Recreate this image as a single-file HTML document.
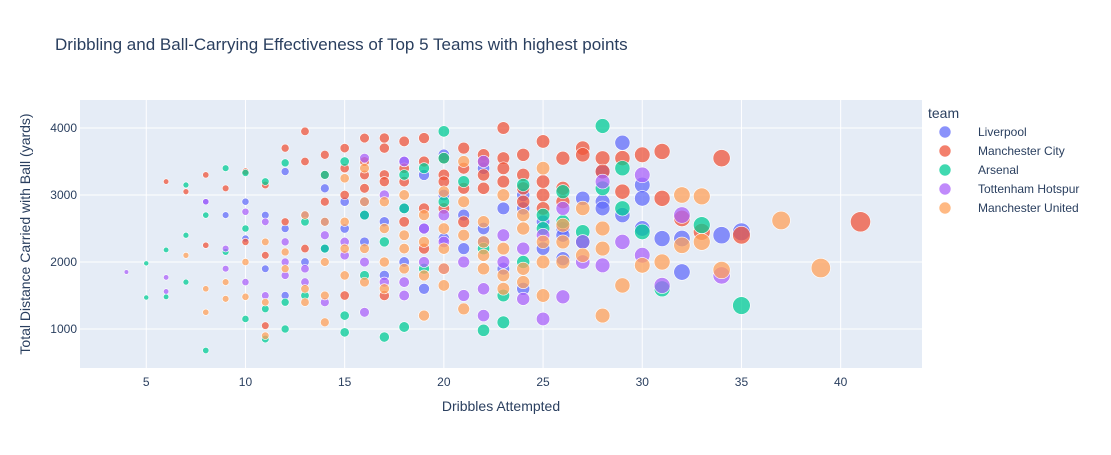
<!DOCTYPE html>
<html><head><meta charset="utf-8"><style>
body{margin:0;background:#fff;font-family:"Liberation Sans",Arial,sans-serif}
svg text{font-family:"Liberation Sans",Arial,sans-serif}
</style></head><body>
<svg id="chart" width="1111" height="450" xmlns="http://www.w3.org/2000/svg">
<rect width="1111" height="450" fill="#fff"/>
<text x="55" y="50" font-size="17" fill="#2a3f5f">Dribbling and Ball-Carrying Effectiveness of Top 5 Teams with highest points</text>
<rect x="80" y="100" width="842" height="268" fill="#e5ecf6"/>
<g id="grid"></g>
<g id="marks"></g>
<g id="ticks"></g>
<text x="501" y="411" font-size="14" fill="#2a3f5f" text-anchor="middle">Dribbles Attempted</text>
<text transform="translate(30,234) rotate(-90)" font-size="14" fill="#2a3f5f" text-anchor="middle">Total Distance Carried with Ball (yards)</text>
<text x="928" y="118" font-size="14" fill="#2a3f5f">team</text>
<g id="legend"></g>
</svg>
<script>
const teams=["Liverpool","Manchester City","Arsenal","Tottenham Hotspur","Manchester United"];
const colors=["#636efa","#EF553B","#00cc96","#ab63fa","#FFA15A"];
const xTicks=[5,10,15,20,25,30,35,40];
const yTicks=[1000,2000,3000,4000];
const livX=[9,10,12,14,16,18,19,20,22,24,26,27,28,29,30,31,32,32,34,35,30,25,23,21,17,15,13,11,8,20,18,26,28,22,16,14,12,24,19,10,13,15,17,19,21,23,25,27,29,11,14,16,18,20,22,24,26,28,30,12];
const livY=[2700,2350,3350,2200,2900,3500,3300,3600,2300,2800,2500,2950,3350,3780,3150,2350,1850,2350,2400,2450,2950,2200,1900,2700,1800,2500,2000,1900,2900,3000,2000,2050,2900,3400,2300,3100,1500,1600,1600,2900,2700,2900,2600,2500,2200,2800,2600,2300,2700,2700,2600,2700,2800,2350,2500,3000,2400,2800,2500,2500];
const mciX=[6,8,9,10,11,12,13,13,14,15,16,17,17,18,19,20,21,22,23,23,24,25,25,26,27,27,28,29,30,31,31,33,34,35,41,22,20,18,16,14,24,26,28,19,21,23,25,17,15,12,11,10,8,7,11,13,15,17,19,21,29,32,14,16,18,20,22,24,15,17,19,21,23,25,18,20,22,24,16,26];
const mciY=[3200,3300,3100,3350,3150,3700,3950,3500,3300,3700,3850,3850,3700,3800,3850,3550,3700,3600,3550,4000,3600,3800,3200,3550,3700,3600,3550,3550,3600,3650,2950,2450,3550,2400,2600,3100,3300,3200,3100,2900,3300,2900,3350,2800,3400,3200,3000,3300,3000,2600,2100,2300,2250,3050,1050,2200,1500,1500,2200,2600,3050,2650,3600,3500,3400,3200,3300,3100,3400,3200,3500,3100,3400,2800,2600,2800,3500,2900,3300,3100];
const arsX=[5,5,6,6,7,7,7,8,8,9,9,10,10,11,11,12,12,13,14,15,15,16,17,18,18,19,20,20,21,22,23,24,25,26,27,28,28,29,29,30,31,33,35,22,24,16,14,19,26,13,10,12,15,17,20,23,25,27,11,18];
const arsY=[1980,1470,1480,2180,3150,2400,1700,2700,680,3400,2150,3330,1150,850,3200,3480,1000,1500,3300,950,3500,2700,880,1030,2800,3400,3550,3950,3200,980,1100,3150,2700,3050,2450,4030,3100,3400,2800,2450,1600,2550,1350,2200,2000,1800,2200,1900,2600,2600,2500,1400,1200,2300,2900,1500,2500,2300,1300,3300];
const totX=[4,6,6,8,9,10,11,12,13,14,15,16,16,17,18,19,20,21,22,22,24,25,26,27,28,29,30,31,32,34,23,20,18,26,28,24,14,12,10,30,11,13,15,17,19,21,23,25,27,16,18,20,22,9,12];
const totY=[1850,1560,1770,2900,2200,2750,2600,2000,1700,1400,2100,3550,1250,3000,3500,2500,1900,2000,3500,1200,1450,1150,1480,2300,1950,2300,3300,1650,2700,1800,2400,2700,1500,2800,3200,2200,2400,2300,1700,2100,1500,1900,2300,1700,2000,1500,2000,2400,2000,2000,1700,2300,1600,1900,1800];
const munX=[7,8,8,9,10,10,11,11,12,13,13,14,14,15,15,15,16,16,17,17,18,18,19,19,20,20,20,21,21,21,22,22,23,23,24,24,25,25,25,26,27,27,28,28,29,30,31,32,32,33,33,34,37,39,26,19,17,23,16,18,12,14,16,18,20,22,24,13,15,17,19,21,23,25,9,11,14,20,22,24,26,28];
const munY=[2100,1250,1600,1450,1480,2000,900,2300,2150,1600,2700,1100,2000,3250,2600,1800,3400,2200,2900,1600,2400,1900,2700,1200,1650,3050,2200,2900,3500,1300,2600,1900,2200,3000,2500,1700,3400,2300,1500,2000,2100,2800,1200,2500,1650,1950,2000,3000,2250,2980,2300,1880,2620,1910,2550,2300,2500,1600,2900,3000,1900,1500,1700,2200,1900,2100,2700,1400,2200,2000,1800,2400,1800,2000,1700,1400,2600,2500,2300,1900,2300,2200];
const series=[[livX,livY],[mciX,mciY],[arsX,arsY],[totX,totY],[munX,munY]];
const NS="http://www.w3.org/2000/svg";
const L=80,R=922,T=100,B=368,xMin=1.66,xMax=44.1,yMin=418,yMax=4418;
const sx=v=>L+(v-xMin)/(xMax-xMin)*(R-L);
const sy=v=>B-(v-yMin)/(yMax-yMin)*(B-T);
const grid=document.getElementById('grid'),ticks=document.getElementById('ticks'),marks=document.getElementById('marks'),legend=document.getElementById('legend');
function mk(tag,a){const e=document.createElementNS(NS,tag);for(const k in a)e.setAttribute(k,a[k]);return e;}
xTicks.forEach(t=>{
  const g=mk('line',{x1:sx(t),x2:sx(t),y1:T,y2:B,stroke:'#fff','stroke-width':1});
  
  
  grid.appendChild(g);
  const tx=mk('text',{x:sx(t),y:B+18,'font-size':12,fill:'#2a3f5f','text-anchor':'middle'});
  
  
  tx.textContent=t;ticks.appendChild(tx);
});
yTicks.forEach(t=>{
  const g=mk('line',{x1:L,x2:R,y1:sy(t),y2:sy(t),stroke:'#fff','stroke-width':1});
  
  
  grid.appendChild(g);
  const tx=mk('text',{x:L-3,y:sy(t)+4,'font-size':12,fill:'#2a3f5f','text-anchor':'end'});
  
  
  tx.textContent=t;ticks.appendChild(tx);
});
series.forEach((s,i)=>{
  const [xs,ys]=s;
  xs.forEach((x,j)=>{
    const c=mk('circle',{cx:sx(x),cy:sy(ys[j]),r:(x*0.42+3)/2,fill:colors[i],'fill-opacity':0.75,stroke:'#fff','stroke-width':0.6});
    
    
    marks.appendChild(c);
  });
  const y=132+i*19;
  const lc=mk('circle',{cx:945,cy:y,r:6,fill:colors[i],'fill-opacity':0.75,stroke:'#fff','stroke-width':0.6});
  
  
  legend.appendChild(lc);
  const lt=mk('text',{x:978,y:y+4,'font-size':12,fill:'#2a3f5f'});
  
  
  lt.textContent=teams[i];legend.appendChild(lt);
});
</script>
</body></html>
